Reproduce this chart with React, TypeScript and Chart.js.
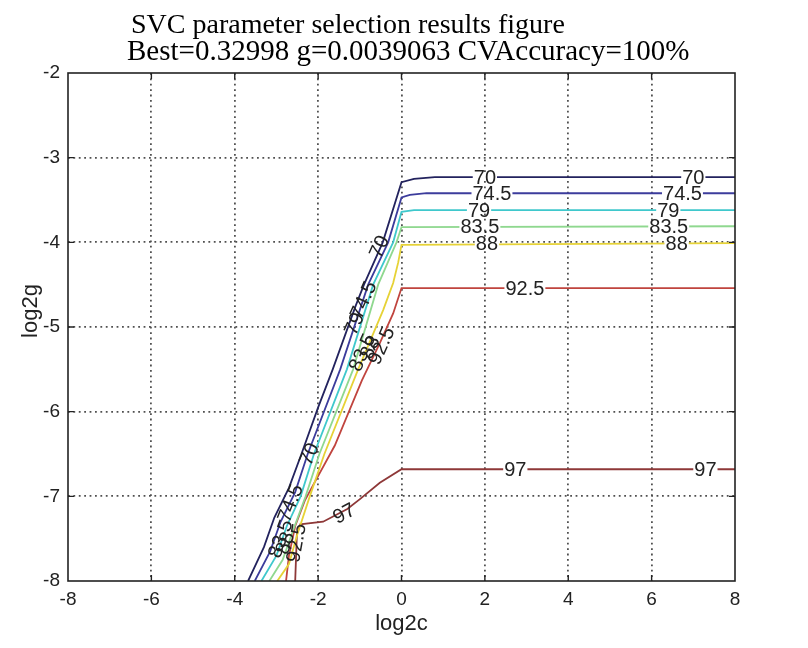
import React, { useEffect, useRef } from 'react';
import { Chart, registerables } from 'chart.js';

Chart.register(...registerables);

// ---------- data ----------
const titleLine1 = 'SVC parameter selection results figure';
const titleLine2 = 'Best=0.32998 g=0.0039063 CVAccuracy=100%';
const xTitle = 'log2c';
const yTitle = 'log2g';

const xTickValues = [-8, -6, -4, -2, 0, 2, 4, 6, 8];
const yTickValues = [-8, -7, -6, -5, -4, -3, -2];

const levels = ['70', '74.5', '79', '83.5', '88', '92.5', '97'];
const lineColors = ['#23235e', '#3c3c9c', '#3fc8cc', '#8fd88f', '#e6d236', '#c0443e', '#8e3838'];

const c70 = [8, 0.8, 0.3, 0, -0.45, -0.9, -1.1, -1.65, -2.0, -2.4, -2.7, -3.05, -3.3, -3.68];
const g70 = [-3.23, -3.23, -3.25, -3.29, -4.0, -4.5, -4.75, -5.5, -5.95, -6.5, -6.9, -7.25, -7.6, -8];

const c745 = [8, 0.6, 0.2, 0, -0.32, -0.8, -1.47, -2.25, -2.55, -2.9, -3.15, -3.52];
const g745 = [-3.42, -3.42, -3.44, -3.47, -4.0, -4.5, -5.5, -6.5, -6.95, -7.3, -7.65, -8];

const c79 = [8, 0.3, 0, -0.2, -0.68, -1.31, -2.1, -2.42, -2.75, -3.0, -3.36];
const g79 = [-3.62, -3.62, -3.64, -4.0, -4.5, -5.5, -6.5, -7.0, -7.35, -7.7, -8];

const c835 = [8, 0, -0.12, -0.56, -1.16, -1.97, -2.3, -2.6, -2.85, -3.17];
const g835 = [-3.81, -3.82, -4.0, -4.5, -5.5, -6.5, -7.0, -7.4, -7.75, -8];

const c88 = [8, 0, -0.08, -0.2, -0.44, -1.04, -1.85, -2.2, -2.5, -2.7, -2.98];
const g88 = [-4.01, -4.03, -4.24, -4.48, -4.8, -5.5, -6.5, -7.0, -7.45, -7.8, -8];

const c925 = [8, 0, -0.2, -0.52, -0.95, -1.6, -2.1, -2.32, -2.55, -2.7, -2.77];
const g925 = [-4.54, -4.54, -4.84, -5.19, -5.63, -6.4, -6.85, -7.05, -7.35, -7.7, -8];

const c97 = [8, 0, -0.52, -0.99, -1.3, -1.88, -2.43, -2.51, -2.55];
const g97 = [-6.68, -6.68, -6.84, -7.03, -7.15, -7.3, -7.33, -7.45, -8];

const lineC = [c70, c745, c79, c835, c88, c925, c97];
const lineG = [g70, g745, g79, g835, g88, g925, g97];

// contour labels: text, log2c, log2g, angle (deg)
const labelText = ['70', '70', '74.5', '74.5', '79', '79', '83.5', '83.5', '88', '88', '92.5', '97', '97',
  '70', '74.5', '79', '83.5', '88', '92.5',
  '70', '74.5', '83.5', '88', '92.5', '97'];
const labelC = [2.0, 7.0, 2.17, 6.74, 1.86, 6.4, 1.88, 6.41, 2.05, 6.6, 2.96, 2.73, 7.29,
  -0.54, -0.92, -1.14, -0.95, -0.76, -0.49,
  -2.22, -2.67, -2.91, -2.8, -2.53, -1.38];
const labelG = [-3.23, -3.23, -3.42, -3.42, -3.62, -3.62, -3.81, -3.81, -4.01, -4.01, -4.54, -6.68, -6.68,
  -4.05, -4.68, -4.96, -5.3, -5.24, -5.22,
  -6.5, -7.08, -7.5, -7.55, -7.55, -7.2];
const labelAngle = [0, 0, 0, 0, 0, 0, 0, 0, 0, 0, 0, 0, 0,
  -66, -66, -66, -66, -66, -66,
  -66, -68, -70, -72, -80, -28];

// ---------- plugins ----------
const contourLabels = {
  id: 'contourLabels',
  afterDatasetsDraw(chart: any) {
    const { ctx, scales } = chart;
    const x = scales.x, y = scales.y;
    ctx.save();
    ctx.font = '20px "Liberation Sans", Arial, sans-serif';
    ctx.textAlign = 'center';
    ctx.textBaseline = 'middle';
    for (let i = 0; i < labelText.length; i++) {
      const px = x.getPixelForValue(labelC[i]);
      const py = y.getPixelForValue(labelG[i]);
      ctx.save();
      ctx.translate(px, py);
      ctx.rotate((labelAngle[i] * Math.PI) / 180);
      if (labelAngle[i] === 0) {
        const w = ctx.measureText(labelText[i]).width;
        ctx.fillStyle = '#ffffff';
        ctx.fillRect(-w / 2 - 1, -3, w + 2, 6);
      }
      ctx.fillStyle = '#222222';
      ctx.fillText(labelText[i], 0, 1);
      ctx.restore();
    }
    ctx.restore();
  },
};

const framePlugin = {
  id: 'frame',
  afterDraw(chart: any) {
    const { ctx, chartArea, scales } = chart;
    const { left, right, top, bottom } = chartArea;
    const x = scales.x, y = scales.y;
    ctx.save();
    ctx.strokeStyle = '#222';
    ctx.lineWidth = 1.6;
    ctx.strokeRect(left, top, right - left, bottom - top);
    ctx.lineWidth = 1.4;
    const tl = 6;
    ctx.beginPath();
    xTickValues.forEach((v) => {
      if (v === xTickValues[0] || v === xTickValues[xTickValues.length - 1]) return;
      const p = x.getPixelForValue(v);
      ctx.moveTo(p, bottom); ctx.lineTo(p, bottom - tl);
      ctx.moveTo(p, top); ctx.lineTo(p, top + tl);
    });
    yTickValues.forEach((v) => {
      if (v === yTickValues[0] || v === yTickValues[yTickValues.length - 1]) return;
      const p = y.getPixelForValue(v);
      ctx.moveTo(left, p); ctx.lineTo(left + tl, p);
      ctx.moveTo(right, p); ctx.lineTo(right - tl, p);
    });
    ctx.stroke();

    // titles
    ctx.fillStyle = '#000';
    ctx.textAlign = 'left';
    ctx.textBaseline = 'alphabetic';
    ctx.font = '28px "Liberation Serif", "Times New Roman", serif';
    ctx.fillText(titleLine1, 131, 33);
    ctx.font = '29px "Liberation Serif", "Times New Roman", serif';
    ctx.fillText(titleLine2, 127, 60);

    ctx.save();
    ctx.translate(31, (top + bottom) / 2 - 16);
    ctx.rotate(-Math.PI / 2);
    ctx.font = '22px "Liberation Sans", Arial, sans-serif';
    ctx.fillStyle = '#222';
    ctx.textAlign = 'center';
    ctx.textBaseline = 'middle';
    ctx.fillText(yTitle, 0, 0);
    ctx.restore();
    ctx.restore();
  },
};

const gridColor = (vals: number[]) => (c: any) => {
  const v = c.tick ? c.tick.value : null;
  if (v === vals[0] || v === vals[vals.length - 1]) return 'rgba(0,0,0,0)';
  return '#505050';
};

export default function App() {
  const ref = useRef<HTMLCanvasElement>(null);
  useEffect(() => {
    if (!ref.current) return;
    const datasets = levels.map((lv, i) => ({
      label: lv,
      data: lineC[i].map((c, j) => ({ x: c, y: lineG[i][j] })),
      borderColor: lineColors[i],
      backgroundColor: lineColors[i],
      borderWidth: 1.8,
      pointRadius: 0,
      tension: 0,
      fill: false,
      showLine: true,
    }));
    const chart = new Chart(ref.current, {
      type: 'scatter',
      data: { datasets },
      options: {
        animation: false,
        responsive: false,
        devicePixelRatio: 1,
        layout: { padding: { top: 73, right: 73, left: 0, bottom: 0 } },
        plugins: {
          legend: { display: false },
          tooltip: { enabled: false },
          title: { display: false },
        },
        scales: {
          x: {
            type: 'linear',
            min: xTickValues[0],
            max: xTickValues[xTickValues.length - 1],
            afterBuildTicks: (s: any) => { s.ticks = xTickValues.map((v) => ({ value: v })); },
            afterFit: (s: any) => { s.height = 67; },
            grid: { color: gridColor(xTickValues), lineWidth: 1.8, drawTicks: false },
            border: { display: false, dash: [1.8, 3.6] },
            ticks: {
              padding: 7,
              color: '#222',
              font: { family: '"Liberation Sans", Arial, sans-serif', size: 19 },
              maxRotation: 0,
              autoSkip: false,
            },
            title: {
              display: true,
              text: xTitle,
              color: '#222',
              font: { family: '"Liberation Sans", Arial, sans-serif', size: 22 },
              padding: { top: 0, bottom: 11 },
            },
          },
          y: {
            type: 'linear',
            min: yTickValues[0],
            max: yTickValues[yTickValues.length - 1],
            afterBuildTicks: (s: any) => { s.ticks = yTickValues.map((v) => ({ value: v })); },
            afterFit: (s: any) => { s.width = 68; },
            grid: { color: gridColor(yTickValues), lineWidth: 1.8, drawTicks: false },
            border: { display: false, dash: [1.8, 3.6] },
            ticks: {
              padding: 8,
              color: '#222',
              font: { family: '"Liberation Sans", Arial, sans-serif', size: 19 },
              autoSkip: false,
            },
            title: { display: false },
          },
        },
      },
      plugins: [contourLabels, framePlugin],
    } as any);
    return () => chart.destroy();
  }, []);
  return (
    <div style={{ position: 'fixed', left: 0, top: 0, width: 808, height: 648, background: '#fff' }}>
      <canvas ref={ref} width={808} height={648} style={{ display: 'block' }} />
    </div>
  );
}
